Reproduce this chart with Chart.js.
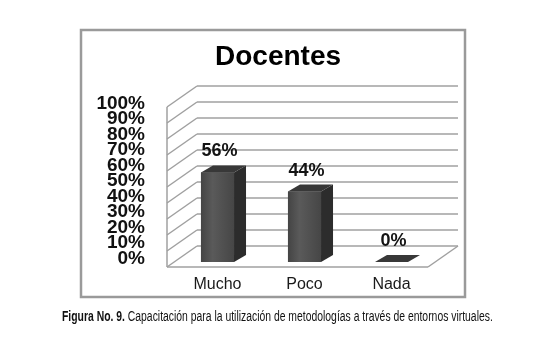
<!DOCTYPE html>
<html><head><meta charset="utf-8">
<script src="https://cdn.jsdelivr.net/npm/chart.js@4"></script>
<style>
html,body{margin:0;padding:0;background:#fff;width:536px;height:352px;overflow:hidden}
#c{position:absolute;left:0;top:0}
#cap{position:absolute;left:0;top:307px;font-family:"Liberation Sans",Arial,sans-serif;font-size:15.5px;line-height:18px;color:#111;white-space:nowrap;transform-origin:0 0}
</style></head><body>
<canvas id="c" width="536" height="352"></canvas>
<div id="cap"><b>Figura No. 9.</b> Capacitación para la utilización de metodologías a través de entornos virtuales.</div>
<script>
const categories = ['Mucho', 'Poco', 'Nada'];
const values = [56, 44, 0];
const tickValues = [0, 10, 20, 30, 40, 50, 60, 70, 80, 90, 100];
const chartTitle = 'Docentes';

// caption: fit to the reference width
(function () {
  const cap = document.getElementById('cap');
  const w = cap.scrollWidth, target = 431, sx = target / w;
  cap.style.left = (277 - target / 2) + 'px';
  cap.style.transform = 'scaleX(' + sx + ')';
})();

const FX = -7, FY = 5, BX = 23, BY = -16;   // wall depth offsets
const DX = 12, DY = -7;                       // bar depth

function line(ctx, x1, y1, x2, y2) { ctx.beginPath(); ctx.moveTo(x1, y1); ctx.lineTo(x2, y2); ctx.stroke(); }
function poly(ctx, pts, fill) { ctx.beginPath(); ctx.moveTo(pts[0][0], pts[0][1]); for (let i = 1; i < pts.length; i++) ctx.lineTo(pts[i][0], pts[i][1]); ctx.closePath(); ctx.fillStyle = fill; ctx.fill(); }

const threeD = {
  id: 'threeD',
  beforeDraw(chart) {
    const ctx = chart.ctx;
    ctx.save();
    ctx.fillStyle = '#fff'; ctx.fillRect(0, 0, chart.width, chart.height);
    ctx.strokeStyle = '#9a9a9a'; ctx.lineWidth = 2.5;
    ctx.strokeRect(81, 30, 384, 267);
    ctx.fillStyle = '#000'; ctx.font = 'bold 28px "Liberation Sans", Arial, sans-serif';
    ctx.textAlign = 'center'; ctx.textBaseline = 'alphabetic';
    ctx.fillText(chartTitle, 278, 65);
    ctx.restore();
  },
  beforeDatasetsDraw(chart) {
    const ctx = chart.ctx, y = chart.scales.y, a = chart.chartArea;
    ctx.save();
    ctx.strokeStyle = '#a0a0a0'; ctx.lineWidth = 1.5;
    tickValues.forEach(v => {
      const py = y.getPixelForValue(v);
      line(ctx, a.left + BX, py + BY, a.right + BX, py + BY);
      line(ctx, a.left + FX, py + FY, a.left + BX, py + BY);
    });
    const y0 = y.getPixelForValue(0), y100 = y.getPixelForValue(100);
    line(ctx, a.left + FX, y100 + FY, a.left + FX, y0 + FY);
    line(ctx, a.left + FX, y0 + FY, a.right + FX, y0 + FY);
    line(ctx, a.right + FX, y0 + FY, a.right + BX, y0 + BY);
    ctx.restore();
  },
  afterDatasetsDraw(chart) {
    const ctx = chart.ctx;
    const meta = chart.getDatasetMeta(0);
    ctx.save();
    meta.data.forEach((el, i) => {
      const w = el.width, l = el.x - w / 2, r = el.x + w / 2, t = el.y, b = el.base;
      if (b - t > 0.5) {
        const g = ctx.createLinearGradient(l, 0, r, 0);
        g.addColorStop(0, '#444'); g.addColorStop(0.35, '#5a5a5a'); g.addColorStop(1, '#464646');
        ctx.fillStyle = g; ctx.fillRect(l, t, w, b - t);
        poly(ctx, [[r, t], [r + DX, t + DY], [r + DX, b + DY], [r, b]], '#2c2c2c');
      }
      poly(ctx, [[l, t], [l + DX, t + DY], [r + DX, t + DY], [r, t]], '#383838');
      ctx.fillStyle = '#141414';
      ctx.font = 'bold 18px "Liberation Sans", Arial, sans-serif';
      ctx.textAlign = 'center'; ctx.textBaseline = 'middle';
      ctx.fillText(values[i] + '%', el.x + 2, t - 21);
    });
    ctx.restore();
  }
};

new Chart(document.getElementById('c'), {
  type: 'bar',
  data: { labels: categories, datasets: [{ data: values, backgroundColor: '#4d4d4d', borderWidth: 0, barPercentage: 0.38, categoryPercentage: 1 }] },
  options: {
    responsive: false, animation: false, devicePixelRatio: 1,
    layout: { padding: { left: 80, right: 101, top: 102, bottom: 60 } },
    plugins: { legend: { display: false }, tooltip: { enabled: false }, title: { display: false } },
    scales: {
      x: {
        grid: { display: false }, border: { display: false },
        ticks: { color: '#1a1a1a', padding: 5, font: { family: '"Liberation Sans", Arial, sans-serif', size: 16 } },
        afterFit(s) { s.height = 30; }
      },
      y: { display: false, min: 0, max: 100 },
      y2: {
        position: 'left', min: -2.26, max: 100.97,
        grid: { display: false, drawTicks: false }, border: { display: false },
        afterBuildTicks(s) { s.ticks = tickValues.map(v => ({ value: v })); },
        ticks: { autoSkip: false, padding: 29, color: '#111', font: { family: '"Liberation Sans", Arial, sans-serif', size: 19, weight: 'bold' }, callback: v => v + '%' },
        afterFit(s) { s.width = 94; }
      }
    }
  },
  plugins: [threeD]
});
</script>
</body></html>
